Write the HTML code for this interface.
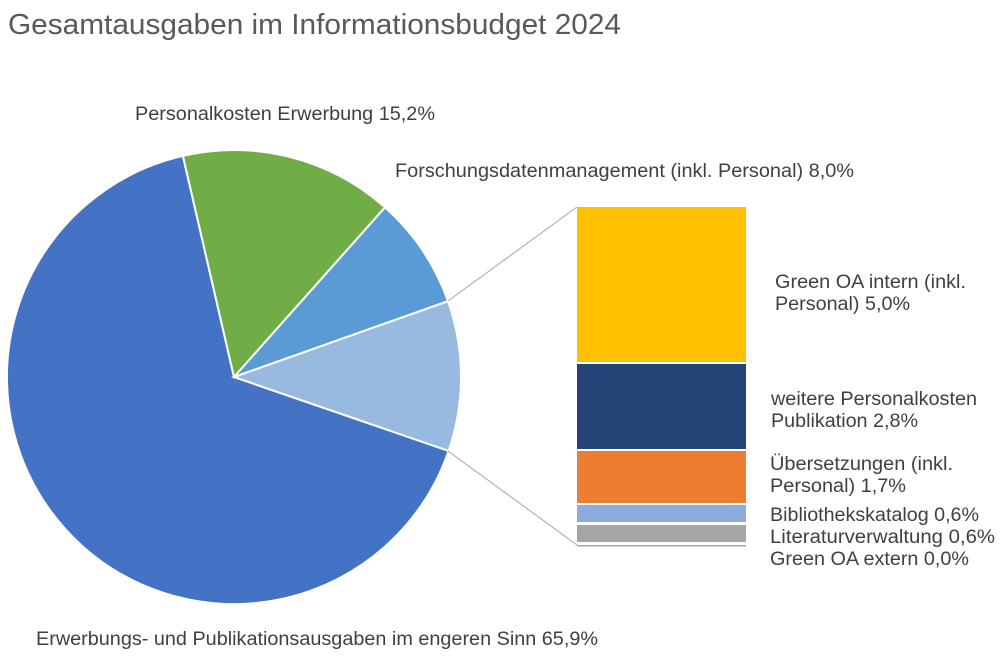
<!DOCTYPE html>
<html><head><meta charset="utf-8"><style>
body{margin:0;background:#fff;width:1000px;height:660px;overflow:hidden}
svg text{font-family:"Liberation Sans",sans-serif;fill:#404040;font-size:19px}
</style></head><body>
<svg width="1000" height="660" xmlns="http://www.w3.org/2000/svg">
<text x="8" y="34" style="font-size:29px;fill:#595959" textLength="613" lengthAdjust="spacingAndGlyphs">Gesamtausgaben im Informationsbudget 2024</text>
<g stroke="#fff" stroke-width="2">
<path d="M234,377 L448.6,450.9 A227,227 0 1 1 182.9,155.9 Z" fill="#4472C4"/>
<path d="M234,377 L182.9,155.9 A227,227 0 0 1 385,207.4 Z" fill="#70AD47"/>
<path d="M234,377 L385,207.4 A227,227 0 0 1 448,301.2 Z" fill="#5B9BD5"/>
<path d="M234,377 L448,301.2 A227,227 0 0 1 448.6,450.9 Z" fill="#98B9E0"/>
</g>
<line x1="448" y1="301" x2="577" y2="207" stroke="#A6A6A6" stroke-width="1"/>
<line x1="448" y1="451" x2="577" y2="545" stroke="#A6A6A6" stroke-width="1"/>
<rect x="577" y="207" width="169" height="155" fill="#FFC000"/>
<rect x="577" y="364" width="169" height="85" fill="#264478"/>
<rect x="577" y="451" width="169" height="52" fill="#ED7D31"/>
<rect x="577" y="505" width="169" height="17" fill="#8FAADC"/>
<rect x="577" y="525" width="169" height="17" fill="#A5A5A5"/>
<rect x="577" y="545" width="169" height="1.5" fill="#A5A5A5"/>
<text x="135" y="120" textLength="300" lengthAdjust="spacingAndGlyphs">Personalkosten Erwerbung 15,2%</text>
<text x="395" y="177" textLength="459" lengthAdjust="spacingAndGlyphs">Forschungsdatenmanagement (inkl. Personal) 8,0%</text>
<text x="775" y="288" textLength="191" lengthAdjust="spacingAndGlyphs">Green OA intern (inkl.</text>
<text x="775" y="310" textLength="135" lengthAdjust="spacingAndGlyphs">Personal) 5,0%</text>
<text x="771" y="405" textLength="206" lengthAdjust="spacingAndGlyphs">weitere Personalkosten</text>
<text x="771" y="427" textLength="147" lengthAdjust="spacingAndGlyphs">Publikation 2,8%</text>
<text x="770" y="470" textLength="183" lengthAdjust="spacingAndGlyphs">Übersetzungen (inkl.</text>
<text x="770" y="492" textLength="136" lengthAdjust="spacingAndGlyphs">Personal) 1,7%</text>
<text x="770" y="521" textLength="209" lengthAdjust="spacingAndGlyphs">Bibliothekskatalog 0,6%</text>
<text x="770" y="543" textLength="225" lengthAdjust="spacingAndGlyphs">Literaturverwaltung  0,6%</text>
<text x="770" y="565" textLength="199" lengthAdjust="spacingAndGlyphs">Green OA extern 0,0%</text>
<text x="36" y="645" textLength="562" lengthAdjust="spacingAndGlyphs">Erwerbungs- und Publikationsausgaben im engeren Sinn 65,9%</text>
</svg>
</body></html>
